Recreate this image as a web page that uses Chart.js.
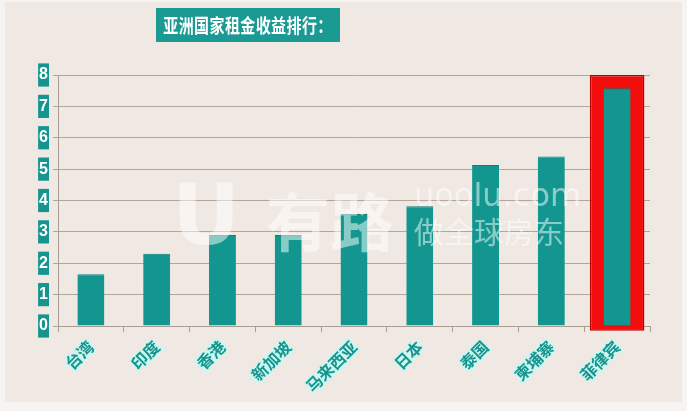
<!DOCTYPE html>
<html><head><meta charset="utf-8">
<script src="https://cdn.jsdelivr.net/npm/chart.js@4/dist/chart.umd.min.js"></script>
<style>
html,body{margin:0;padding:0;background:#f6f4f2;width:687px;height:411px;overflow:hidden;font-family:"Noto Sans CJK SC",sans-serif;}
#bg{position:absolute;left:5px;top:2px;width:677px;height:400px;background:#efe8e3;}
#title{position:absolute;left:156px;top:8px;width:184px;height:34px;background:#1a9a93;color:#fff;font-weight:bold;font-size:15px;line-height:34px;text-align:center;letter-spacing:0.4px;}
#title span{display:inline-block;transform:scaleY(1.3);}
#wrap{position:absolute;left:0;top:0;width:687px;height:411px;}
.wm{position:absolute;color:rgba(255,255,255,0.5);font-family:"Noto Sans CJK SC",sans-serif;pointer-events:none;white-space:nowrap;}
</style></head>
<body>
<div id="bg"></div>
<div id="wrap"><canvas id="c" width="687" height="411"></canvas></div>
<div id="title"><span>亚洲国家租金收益排行：</span></div>
<div class="wm" style="left:172px;top:166px;font-size:84px;font-weight:bold;font-family:'DejaVu Sans';">U</div>
<div class="wm" style="left:266px;top:172px;font-size:64px;font-weight:bold;">有路</div>
<div class="wm" style="left:414px;top:176px;font-size:32px;font-family:'DejaVu Sans';">uoolu.com</div>
<div class="wm" style="left:414px;top:208px;font-size:30px;">做全球房东</div>
<script>
const categories = ["台湾","印度","香港","新加坡","马来西亚","日本","泰国","柬埔寨","菲律宾"];
const yields = [1.65, 2.3, 2.9, 2.9, 3.57, 3.82, 5.13, 5.4, 7.58];
const highlight = [null, null, null, null, null, null, null, null, [-0.15, 8]];
const yTicks = [0,1,2,3,4,5,6,7,8];

const teal = "#13968f";
new Chart(document.getElementById("c"), {
  type: "bar",
  data: {
    labels: categories,
    datasets: [
      { data: yields, backgroundColor: teal, borderColor: "#0e7f79", borderWidth: {left:0,right:0,top:1,bottom:0},
        barPercentage: 0.41, categoryPercentage: 1, order: 1, grouped: false },
      { data: highlight, backgroundColor: "#f20c0c", borderColor: "#b30000", borderWidth: 1.5, borderSkipped: false,
        barPercentage: 0.83, categoryPercentage: 1, order: 2, grouped: false, clip: false }
    ]
  },
  options: {
    responsive: false,
    animation: false,
    events: [],
    layout: { autoPadding: false, padding: { left: 30, right: 37, top: 75, bottom: 0 } },
    plugins: { legend: { display: false }, tooltip: { enabled: false } },
    scales: {
      x: {
        offset: true,
        grid: { display: true, drawOnChartArea: false, drawTicks: true, tickLength: 6, color: "#a99c90", offset: true },
        border: { display: true, color: "#a99c90", width: 1 },
        ticks: { minRotation: 45, maxRotation: 45, padding: 5, color: "#16948d",
          font: { family: "Noto Sans CJK SC", size: 16, weight: "bold" },
          textStrokeColor: "#c8f7f2", textStrokeWidth: 3 },
        afterFit: s => { s.height = 411 - 326; }
      },
      y: {
        min: 0, max: 8,
        afterBuildTicks: s => { s.ticks = yTicks.map(v => ({ value: v })); },
        grid: { color: "#b3a597", lineWidth: 1, drawTicks: true, tickLength: 5 },
        border: { display: true, color: "#a99c90", width: 1 },
        ticks: { color: "#ffffff", padding: 5, showLabelBackdrop: true, backdropColor: "#16958e",
          backdropPadding: { x: 1, y: 2 },
          font: { family: "Liberation Sans Narrow, Liberation Sans", size: 16, weight: "bold" } },
        afterFit: s => { s.width = 28; }
      }
    }
  }
});
</script>
</body></html>
